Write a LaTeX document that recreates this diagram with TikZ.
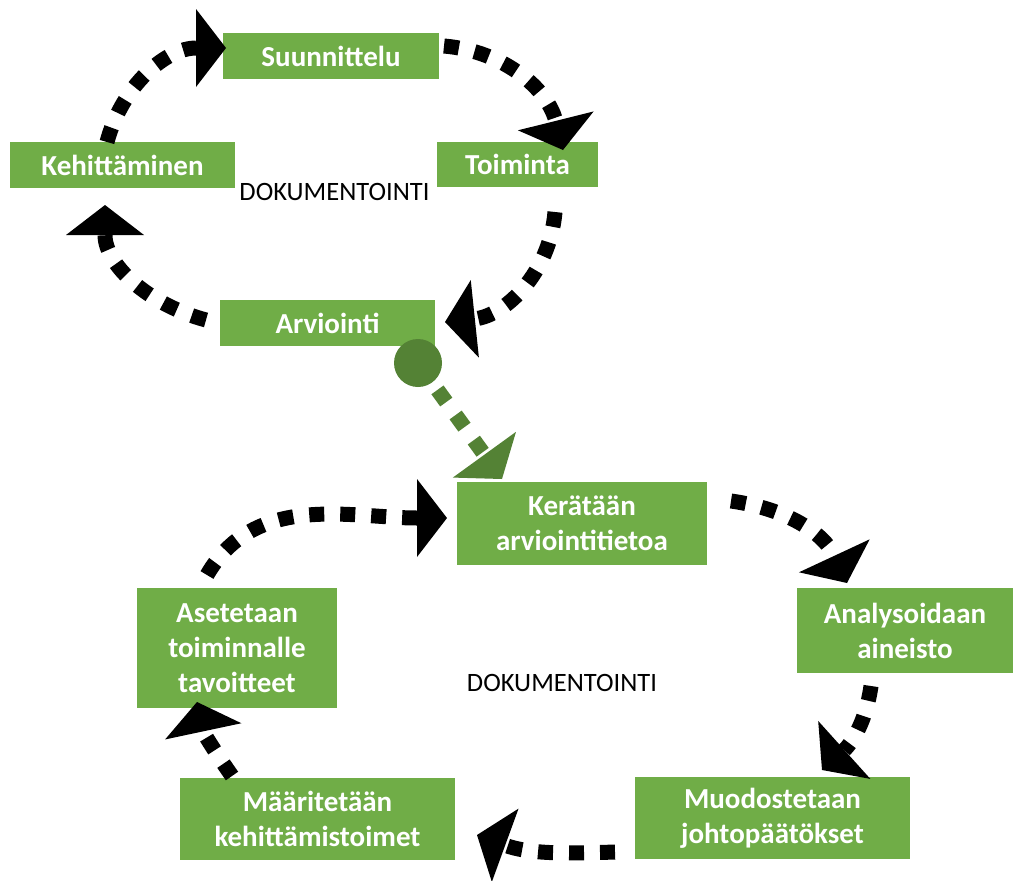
\documentclass[tikz,border=0pt]{standalone}
\usepackage{fontspec}
\setmainfont{Carlito}
\usetikzlibrary{arrows.meta}
\definecolor{boxgreen}{HTML}{70AD47}
\definecolor{darkgreen}{HTML}{548235}
\tikzset{
  box/.style={fill=boxgreen, draw=none, text=white, inner sep=0pt, align=center,
    font=\fontsize{29pt}{35pt}\selectfont\bfseries},
  doclabel/.style={text=black, inner sep=0pt, font=\fontsize{26.5pt}{30pt}\selectfont},
  conn/.style={draw=black, line width=15pt, dash pattern=on 15pt off 16pt,
    -{Triangle[length=30pt, width=78pt, line width=0pt]}},
  gconn/.style={draw=darkgreen, line width=15pt, dash pattern=on 15pt off 16pt,
    -{Triangle[length=30pt, width=78pt, line width=0pt]}},
}
\begin{document}
\begin{tikzpicture}[x=1pt, y=1pt]
\useasboundingbox (0,0) rectangle (1013,-881);
\fill[white] (0,0) rectangle (1013,-881);

% upper cycle boxes
\node[box, minimum width=216pt, minimum height=46pt] (suun) at (331,-56) {Suunnittelu};
\node[box, minimum width=225pt, minimum height=46pt] (keh) at (122.5,-165) {Kehittäminen};
\node[box, minimum width=161pt, minimum height=45pt] (toim) at (517.5,-164.5) {Toiminta};
\node[box, minimum width=215pt, minimum height=46pt] (arv) at (327.5,-323) {Arviointi};
\node[doclabel] (doc1) at (334.5,-192) {DOKUMENTOINTI};

% lower cycle boxes
\node[box, minimum width=250pt, minimum height=83pt] (ker) at (582,-523.5) {Kerätään\\arviointitietoa};
\node[box, minimum width=216pt, minimum height=85pt] (ana) at (905,-630.5) {Analysoidaan\\aineisto};
\node[box, minimum width=200pt, minimum height=120pt] (ase) at (237,-648) {Asetetaan\\toiminnalle\\tavoitteet};
\node[box, minimum width=275pt, minimum height=82pt] (maar) at (317.5,-819) {Määritetään\\kehittämistoimet};
\node[box, minimum width=275pt, minimum height=82pt] (muod) at (772.5,-818) {Muodostetaan\\johtopäätökset};
\node[doclabel] (doc2) at (562,-683) {DOKUMENTOINTI};

% connector end points
\coordinate (a1s) at (107,-142);  \coordinate (a1e) at (226,-48);
\coordinate (a2s) at (444,-46);   \coordinate (a2e) at (563,-150);
\coordinate (a3s) at (555,-212);  \coordinate (a3e) at (445,-322);
\coordinate (a4s) at (206,-320);  \coordinate (a4e) at (105,-205);
\coordinate (b1s) at (207,-575);  \coordinate (b1e) at (447,-518);
\coordinate (b2s) at (731,-501);  \coordinate (b2e) at (847,-583);
\coordinate (b3s) at (871,-686);  \coordinate (b3e) at (822,-770);
\coordinate (b4s) at (615,-852);  \coordinate (b4e) at (477,-835);
\coordinate (b5s) at (232,-776);  \coordinate (b5e) at (197,-702);
\coordinate (gend) at (502,-479);

% upper cycle connectors
\draw[conn] (a1s) to[out=75, in=180] (a1e);
\draw[conn] (a2s) to[out=-5, in=104] (a2e);
\draw[conn] (a3s) to[out=-95, in=6] (a3e);
\draw[conn] (a4s) to[out=165, in=-90] (a4e);

% lower cycle connectors
\draw[conn] (b1s) to[out=60, in=180] (b1e);
\draw[conn] (b2s) to[out=-8, in=115] (b2e);
\draw[conn] (b3s) to[out=-98, in=42] (b3e);
\draw[conn] (b4s) to[out=182, in=-20] (b4e);
\draw[conn] (b5s) to[out=125, in=-78] (b5e);

% green link
\node[circle, fill=darkgreen, minimum size=48pt, inner sep=0pt] (circ) at (418,-363) {};
\draw[gconn, shorten <=9pt] (circ) -- (gend);
\end{tikzpicture}
\end{document}
